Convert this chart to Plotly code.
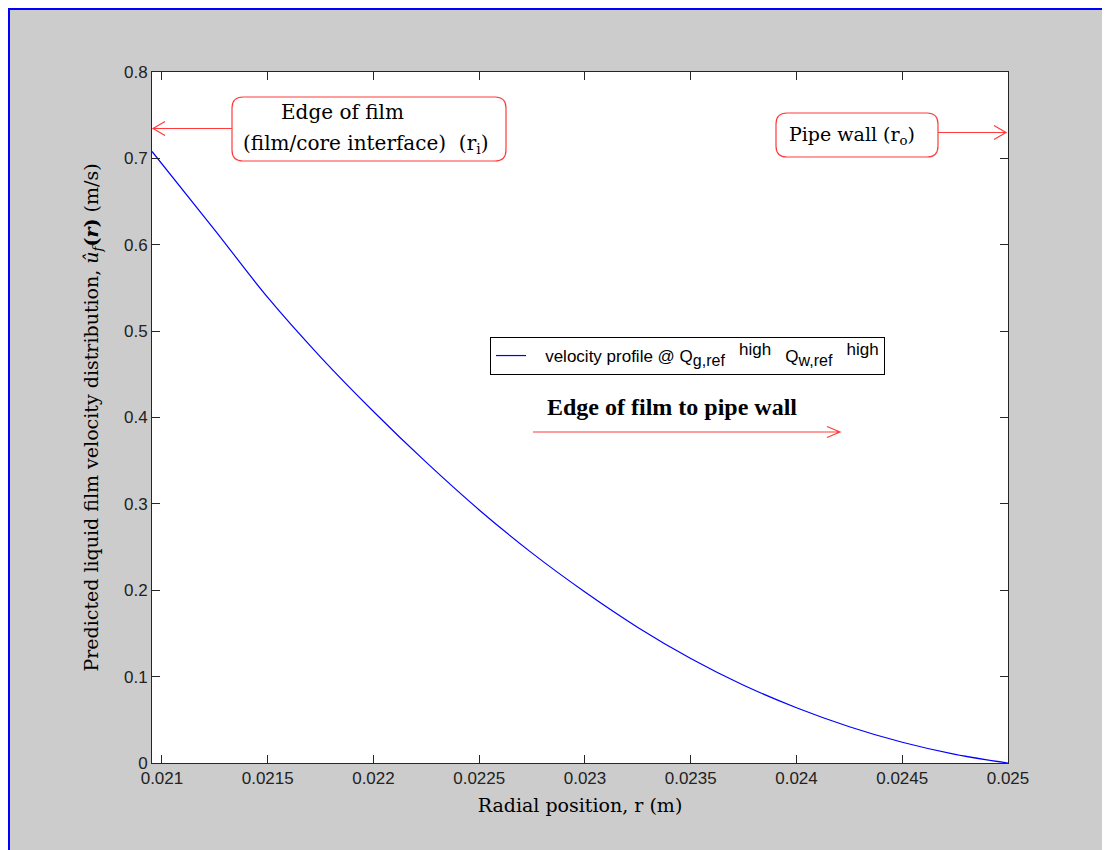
import plotly.graph_objects as go

# ---------------- data ----------------
radial_position_m = [0.020953, 0.02125, 0.0215, 0.02175, 0.022, 0.02225, 0.0225,
                     0.02275, 0.023, 0.02325, 0.0235, 0.02375, 0.024, 0.02425,
                     0.0245, 0.02475, 0.025]
film_velocity_ms = [0.708, 0.617, 0.539, 0.470, 0.407, 0.348, 0.293,
                    0.243, 0.198, 0.157, 0.121, 0.090, 0.064, 0.042,
                    0.024, 0.010, 0.0]

x_tick_vals = [0.021, 0.0215, 0.022, 0.0225, 0.023, 0.0235, 0.024, 0.0245, 0.025]
x_tick_text = ["0.021", "0.0215", "0.022", "0.0225", "0.023", "0.0235", "0.024", "0.0245", "0.025"]
y_tick_vals = [0, 0.1, 0.2, 0.3, 0.4, 0.5, 0.6, 0.7, 0.8]
y_tick_text = ["0", "0.1", "0.2", "0.3", "0.4", "0.5", "0.6", "0.7", "0.8"]

series_name = ("&nbsp;&nbsp;&nbsp;velocity profile @ Q"
               "<sub><span style='font-size:16px'>g,ref</span></sub>&nbsp;&nbsp;&nbsp;"
               "<sup><span style='font-size:17px'>high</span></sup>&nbsp;&nbsp;&nbsp;"
               "Q<sub><span style='font-size:16px'>w,ref</span></sub>&nbsp;&nbsp;&nbsp;"
               "<sup><span style='font-size:17px'>high</span></sup>")

# ---------------- layout helpers (page pixel -> paper) ----------------
OFF = 8                     # body margin of the html page
FIG_W, FIG_H = 1110, 850
PL, PR, PT, PB = 152, 1008, 72, 763   # plot area in page pixels
PW, PH = PR - PL, PB - PT


def px(x):
    return (x - PL) / PW


def py(y):
    return (PB - y) / PH


def rounded_rect(x0, y0, x1, y1, r):
    pts = [
        ("M", [(x0 + r, y0)]),
        ("L", [(x1 - r, y0)]),
        ("Q", [(x1, y0), (x1, y0 + r)]),
        ("L", [(x1, y1 - r)]),
        ("Q", [(x1, y1), (x1 - r, y1)]),
        ("L", [(x0 + r, y1)]),
        ("Q", [(x0, y1), (x0, y1 - r)]),
        ("L", [(x0, y0 + r)]),
        ("Q", [(x0, y0), (x0 + r, y0)]),
    ]
    s = ""
    for cmd, ps in pts:
        s += cmd + " " + " ".join(f"{px(a):.5f},{py(b):.5f}" for a, b in ps) + " "
    return s + "Z"


def arrow_path(x_from, x_to, y, head_len, head_half):
    d = 1 if x_to > x_from else -1
    s = f"M {px(x_from):.5f},{py(y):.5f} L {px(x_to):.5f},{py(y):.5f} "
    s += f"M {px(x_to - d * head_len):.5f},{py(y - head_half):.5f} L {px(x_to):.5f},{py(y):.5f} "
    s += f"L {px(x_to - d * head_len):.5f},{py(y + head_half):.5f}"
    return s


RED = "#FF3B3B"
SERIF = "DejaVu Serif"
SANS = "Liberation Sans, Arial, sans-serif"

fig = go.Figure()
fig.add_trace(go.Scatter(
    x=radial_position_m, y=film_velocity_ms, mode="lines",
    line=dict(color="#0000FF", width=1.2, shape="spline", smoothing=1.0),
    name=series_name, showlegend=True,
))

shapes = []
# blue frame along the top and left edges of the canvas
shapes.append(dict(type="line", xref="paper", yref="paper", layer="above",
                   x0=px(8), y0=py(9), x1=px(1125), y1=py(9),
                   line=dict(color="#0000FF", width=2)))
shapes.append(dict(type="line", xref="paper", yref="paper", layer="above",
                   x0=px(9), y0=py(8), x1=px(9), y1=py(865),
                   line=dict(color="#0000FF", width=2)))
# annotation boxes
shapes.append(dict(type="path", xref="paper", yref="paper", layer="above",
                   path=rounded_rect(232, 97, 506, 161, 11),
                   fillcolor="white", line=dict(color=RED, width=1.2)))
shapes.append(dict(type="path", xref="paper", yref="paper", layer="above",
                   path=rounded_rect(776, 113, 938, 157, 11),
                   fillcolor="white", line=dict(color=RED, width=1.2)))
# arrows
shapes.append(dict(type="path", xref="paper", yref="paper", layer="above",
                   path=arrow_path(232, 153, 128.5, 12, 7), line=dict(color=RED, width=1.2)))
shapes.append(dict(type="path", xref="paper", yref="paper", layer="above",
                   path=arrow_path(938, 1006, 132.5, 12, 7), line=dict(color=RED, width=1.2)))
shapes.append(dict(type="path", xref="paper", yref="paper", layer="above",
                   path=arrow_path(533, 840, 432, 13, 5.5), line=dict(color=RED, width=1.2)))

annotations = [
    dict(text="Edge of film", x=px(342), y=py(112), xref="paper", yref="paper",
         showarrow=False, font=dict(family=SERIF, size=20, color="black"),
         xanchor="center", yanchor="middle"),
    dict(text="(film/core interface)  (r<sub>i</sub>)", x=px(366), y=py(144),
         xref="paper", yref="paper", showarrow=False,
         font=dict(family=SERIF, size=20, color="black"),
         xanchor="center", yanchor="middle"),
    dict(text="Pipe wall (r<sub>o</sub>)", x=px(852), y=py(136), xref="paper", yref="paper",
         showarrow=False, font=dict(family=SERIF, size=19, color="black"),
         xanchor="center", yanchor="middle"),
    dict(text="<b>Edge of film to pipe wall</b>", x=px(672), y=py(407), xref="paper",
         yref="paper", showarrow=False,
         font=dict(family="Liberation Serif, Times New Roman, serif", size=24, color="black"),
         xanchor="center", yanchor="middle"),
]

axis_common = dict(
    showgrid=False, zeroline=False, showline=True, linecolor="#262626", linewidth=1,
    mirror="ticks", ticks="inside", ticklen=8, tickcolor="#262626", tickwidth=1,
    tickfont=dict(family=SANS, size=17, color="#222222"),
)

fig.update_layout(
    width=FIG_W, height=FIG_H, autosize=False,
    margin=dict(l=PL - OFF, r=FIG_W - (PR - OFF), t=PT - OFF, b=FIG_H - (PB - OFF), pad=0),
    paper_bgcolor="#CCCCCC", plot_bgcolor="white",
    xaxis=dict(range=[radial_position_m[0], 0.025], tickvals=x_tick_vals,
               ticktext=x_tick_text,
               title=dict(text="Radial position, r (m)", standoff=11,
                          font=dict(family=SERIF, size=19, color="black")),
               **axis_common),
    yaxis=dict(range=[0, 0.8], tickvals=y_tick_vals, ticktext=y_tick_text,
               title=dict(text="Predicted liquid film velocity distribution, "
                               "<i>û</i><sub><i>f</i></sub><b>(<i>r</i>)</b> (m/s)",
                          standoff=20,
                          font=dict(family=SERIF, size=19, color="black")),
               **axis_common),
    legend=dict(x=px(490), y=py(337), xanchor="left", yanchor="top",
                bgcolor="white", bordercolor="black", borderwidth=1,
                font=dict(family=SANS, size=17, color="black")),
    shapes=shapes, annotations=annotations,
)

fig.write_html("out.html")
